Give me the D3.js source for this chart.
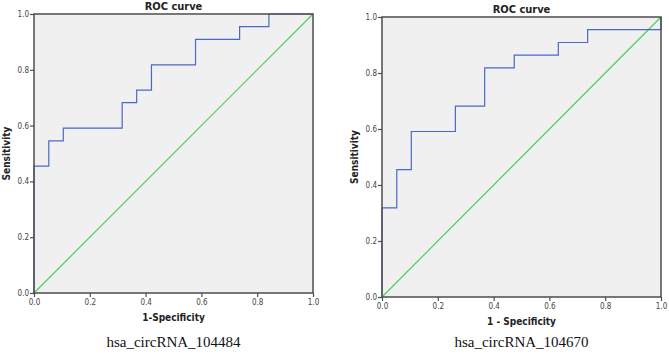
<!DOCTYPE html>
<html>
<head>
<meta charset="utf-8">
<script src="https://cdn.jsdelivr.net/npm/d3@7"></script>
<style>
  body { margin: 0; background: #fff; }
</style>
</head>
<body>
<script>
// ROC steps (1-specificity, sensitivity)
var fprA = [0, 0, 0.053, 0.053, 0.105, 0.105, 0.316, 0.316, 0.368, 0.368, 0.421, 0.421, 0.579, 0.579, 0.737, 0.737, 0.842, 0.842, 1.0];
var tprA = [0, 0.455, 0.455, 0.545, 0.545, 0.591, 0.591, 0.682, 0.682, 0.727, 0.727, 0.818, 0.818, 0.909, 0.909, 0.955, 0.955, 1.0, 1.0];
var fprB = [0, 0, 0.053, 0.053, 0.105, 0.105, 0.263, 0.263, 0.368, 0.368, 0.474, 0.474, 0.632, 0.632, 0.737, 0.737, 1.0, 1.0];
var tprB = [0, 0.318, 0.318, 0.455, 0.455, 0.591, 0.591, 0.682, 0.682, 0.818, 0.818, 0.864, 0.864, 0.909, 0.909, 0.955, 0.955, 1.0];
var ticks = [0, 0.2, 0.4, 0.6, 0.8, 1.0];
var titles = ["ROC curve", "ROC curve"];
var xLabels = ["1-Specificity", "1 - Specificity"];
var captions = ["hsa_circRNA_104484", "hsa_circRNA_104670"];

var w = 669, h = 354;
var sans = "'DejaVu Sans Condensed', 'DejaVu Sans', sans-serif";
var svg = d3.select("body").append("svg").attr("width", w).attr("height", h);

var panels = [
  { left: 34, right: 313, top: 14, bottom: 293, fpr: fprA, tpr: tprA, titleY: 10, xlabY: 321, capY: 347 },
  { left: 382, right: 661, top: 17, bottom: 297, fpr: fprB, tpr: tprB, titleY: 13, xlabY: 325, capY: 347 }
];

panels.forEach(function(p, k) {
  var x = d3.scaleLinear().domain([0, 1]).range([p.left, p.right]);
  var y = d3.scaleLinear().domain([0, 1]).range([p.bottom, p.top]);
  var g = svg.append("g");

  g.append("rect")
    .attr("x", p.left).attr("y", p.top)
    .attr("width", p.right - p.left).attr("height", p.bottom - p.top)
    .attr("fill", "#f0f0f0");

  // reference diagonal
  g.append("line")
    .attr("x1", x(0)).attr("y1", y(0)).attr("x2", x(1)).attr("y2", y(1))
    .attr("stroke", "#4fcd5a").attr("stroke-width", 1.2);

  var pts = p.fpr.map(function(d, i) { return [d, p.tpr[i]]; });
  var line = d3.line().x(function(d) { return x(d[0]); }).y(function(d) { return y(d[1]); });
  g.append("path").datum(pts)
    .attr("d", line).attr("fill", "none")
    .attr("stroke", "#4a68c6").attr("stroke-width", 1.2);

  g.append("rect")
    .attr("x", p.left).attr("y", p.top)
    .attr("width", p.right - p.left).attr("height", p.bottom - p.top)
    .attr("fill", "none").attr("stroke", "#4d4d4d").attr("stroke-width", 1.5);

  var xAxis = g.append("g").attr("transform", "translate(0," + p.bottom + ")")
    .call(d3.axisBottom(x).tickValues(ticks).tickFormat(d3.format(".1f")).tickSize(4).tickPadding(2));
  var yAxis = g.append("g").attr("transform", "translate(" + p.left + ",0)")
    .call(d3.axisLeft(y).tickValues(ticks).tickFormat(d3.format(".1f")).tickSize(4).tickPadding(1));
  [xAxis, yAxis].forEach(function(a) {
    a.select(".domain").remove();
    a.selectAll("line").attr("stroke", "#4d4d4d").attr("stroke-width", 1.2);
    a.selectAll("text").attr("font-size", 8).attr("fill", "#444").style("font-family", sans);
  });

  var cx = (p.left + p.right) / 2;
  g.append("text").attr("x", cx).attr("y", p.titleY)
    .attr("text-anchor", "middle").attr("font-size", 11).attr("font-weight", "bold")
    .style("font-family", sans).attr("fill", "#222").text(titles[k]);
  g.append("text").attr("x", cx).attr("y", p.xlabY)
    .attr("text-anchor", "middle").attr("font-size", 10).attr("font-weight", "bold")
    .style("font-family", sans).attr("fill", "#222").text(xLabels[k]);
  g.append("text")
    .attr("transform", "translate(" + (p.left - 24) + "," + ((p.top + p.bottom) / 2) + ") rotate(-90)")
    .attr("text-anchor", "middle").attr("font-size", 10).attr("font-weight", "bold")
    .style("font-family", sans).attr("fill", "#222").text("Sensitivity");
  g.append("text").attr("x", cx).attr("y", p.capY)
    .attr("text-anchor", "middle").attr("font-size", 15)
    .style("font-family", "'Liberation Serif', serif")
    .attr("fill", "#111").text(captions[k]);
});
</script>
</body>
</html>
